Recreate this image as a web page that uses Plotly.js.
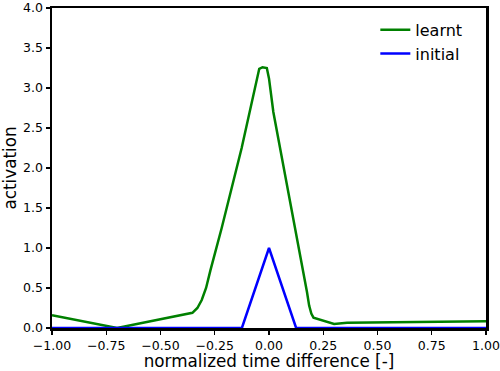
<!DOCTYPE html>
<html>
<head>
<meta charset="utf-8">
<script src="https://cdn.plot.ly/plotly-3.0.1.min.js"></script>
<style>html,body{margin:0;padding:0;background:#fff;}#chart{width:500px;height:371px;}</style>
</head>
<body>
<div id="chart"></div>
<script>
// Data
const learntX = [-1.0, -0.70, -0.353, -0.33, -0.31, -0.29, -0.27, -0.218, -0.126, -0.088, -0.045, -0.03, -0.01, 0.0, 0.02, 0.097, 0.158, 0.175, 0.185, 0.195, 0.205, 0.30, 0.36, 1.0];
const learntY = [0.16, 0.0, 0.19, 0.25, 0.35, 0.5, 0.72, 1.25, 2.25, 2.70, 3.24, 3.26, 3.25, 3.12, 2.70, 1.58, 0.72, 0.45, 0.28, 0.18, 0.13, 0.05, 0.065, 0.085];
const initialX = [-1.0, -0.125, 0.0, 0.125, 1.0];
const initialY = [0.0, 0.0, 1.0, 0.0, 0.0];
const seriesNames = ["learnt", "initial"];
const xTickVals = [-1.0, -0.75, -0.5, -0.25, 0.0, 0.25, 0.5, 0.75, 1.0];
const yTickVals = [0.0, 0.5, 1.0, 1.5, 2.0, 2.5, 3.0, 3.5, 4.0];

const font = "DejaVu Sans, sans-serif";
const traces = [
  {x: learntX, y: learntY, name: seriesNames[0], mode: "lines", line: {color: "#008000", width: 2.5}, cliponaxis: false},
  {x: initialX, y: initialY, name: seriesNames[1], mode: "lines", line: {color: "#0000ff", width: 2.5}, cliponaxis: false}
];
const axisCommon = {
  showline: true, mirror: true, linecolor: "#000", linewidth: 2.5,
  ticks: "outside", ticklen: 4, tickwidth: 1.2, tickcolor: "#000",
  showgrid: false, zeroline: false, ticklabeloverflow: "allow",
  tickfont: {family: font, size: 12.5, color: "#000"}
};
const layout = {
  width: 500, height: 371,
  margin: {l: 52, r: 14, t: 8, b: 43},
  paper_bgcolor: "#fff", plot_bgcolor: "#fff",
  font: {family: font, color: "#000"},
  showlegend: true,
  legend: {x: 0.745, y: 0.985, xanchor: "left", yanchor: "top", bgcolor: "rgba(0,0,0,0)", borderwidth: 0,
           font: {family: font, size: 16, color: "#000"}},
  xaxis: Object.assign({}, axisCommon, {
    range: [-1, 1], tickvals: xTickVals, tickformat: ".2f", automargin: false,
    title: {text: "normalized time difference [-]", font: {family: font, size: 16.8, color: "#000"}}
  }),
  yaxis: Object.assign({}, axisCommon, {
    range: [0, 4], tickvals: yTickVals, tickformat: ".1f", automargin: false,
    title: {text: "activation", font: {family: font, size: 16.8, color: "#000"}}
  })
};
Plotly.newPlot("chart", traces, layout, {displayModeBar: false, staticPlot: true});
</script>
</body>
</html>
